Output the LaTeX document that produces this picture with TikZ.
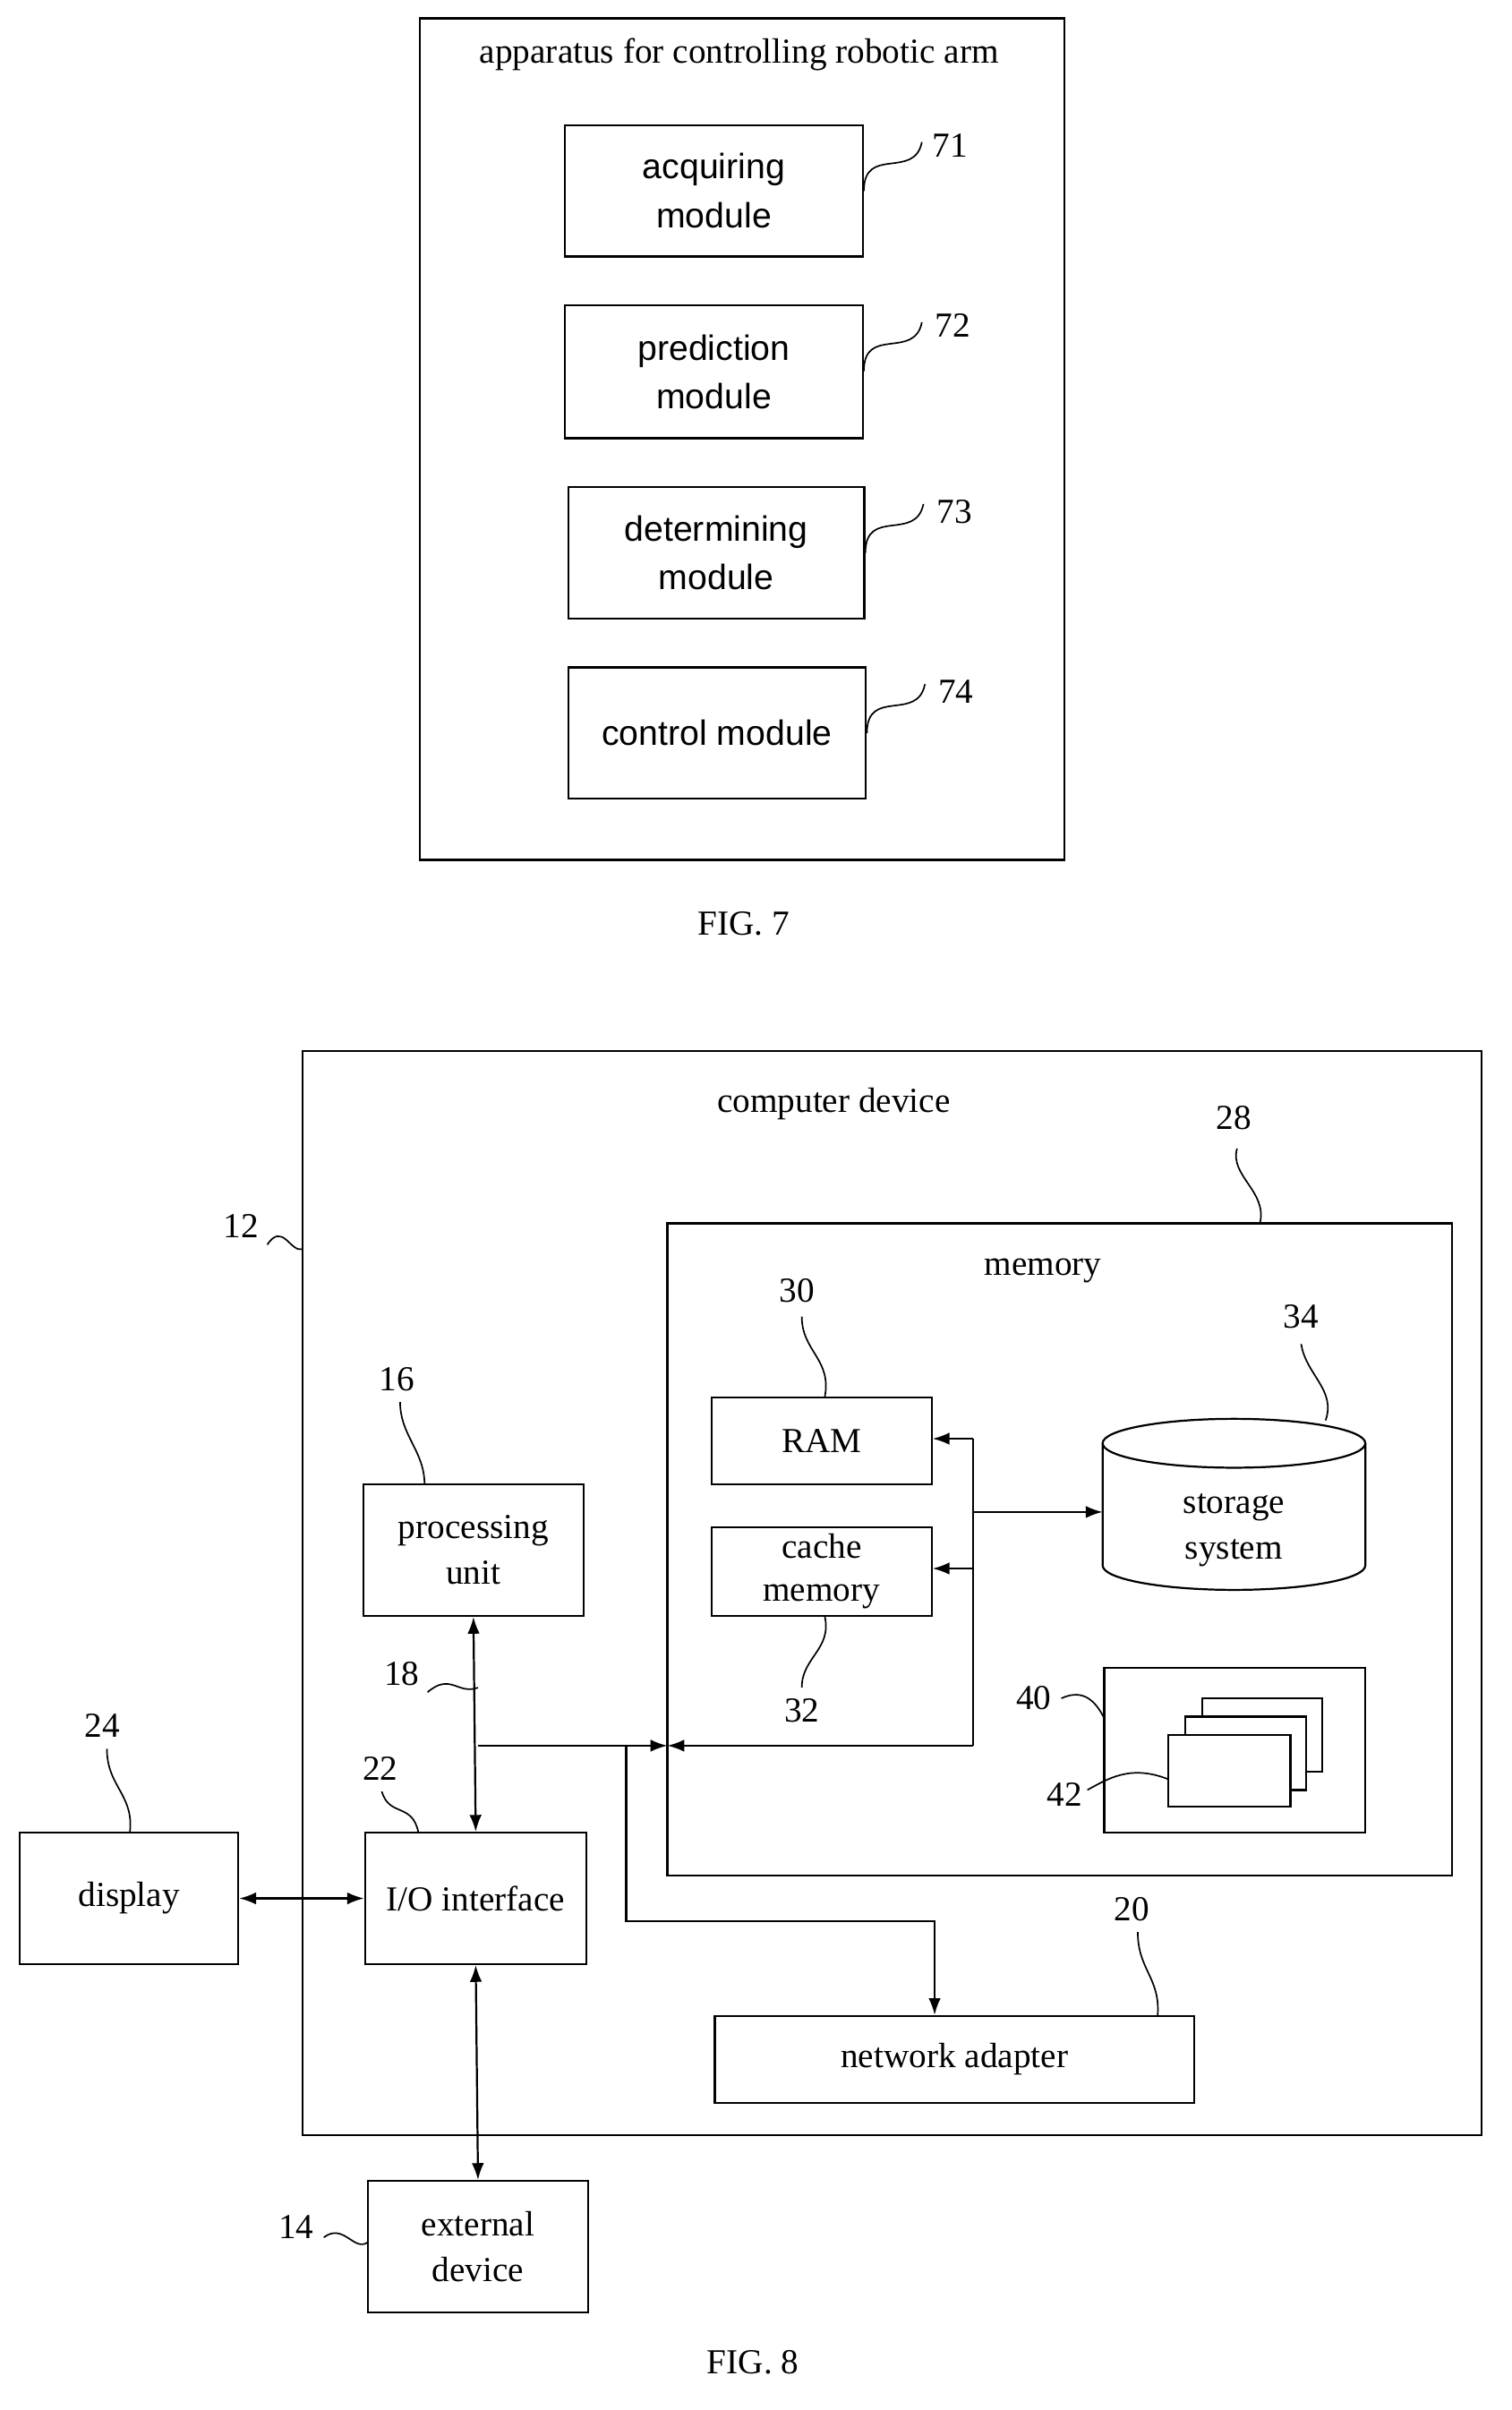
\documentclass[tikz,border=0pt]{standalone}
\usepackage{fontspec}
\setmainfont{Liberation Serif}
\newfontfamily\sansf{Liberation Sans}
\usetikzlibrary{shapes.geometric,arrows.meta}
\begin{document}
\begin{tikzpicture}[x=1pt,y=-1pt,
 box/.style={draw,line width=1.3pt,inner sep=0pt},
 lbl/.style={font=\fontsize{23}{27}\selectfont,align=center},
 num/.style={font=\fontsize{23}{27}\selectfont},
 sq/.style={line width=1pt},
 arr/.style={line width=1.3pt,-{Latex[length=11pt,width=8pt]}},
 darr/.style={line width=1.3pt,{Latex[length=11pt,width=8pt]}-{Latex[length=11pt,width=8pt]}},
 ln/.style={line width=1.3pt}]
\useasboundingbox (0,0) rectangle (990,1578);
% FIG 7
\draw[box] (275,12) rectangle (697,563);
\node[lbl] (t7) at (484,36) {apparatus for controlling robotic arm};
\tikzset{mod/.style={box,lbl,font=\sansf\fontsize{23}{32}\selectfont}}
\node[mod,minimum width=195pt,minimum height=86pt] (m1) at (467.5,125) {acquiring\\module};
\node[mod,minimum width=195pt,minimum height=87pt] (m2) at (467.5,243.5) {prediction\\module};
\node[mod,minimum width=194pt,minimum height=86pt] (m3) at (469,362) {determining\\module};
\node[mod,minimum width=195pt,minimum height=86pt] (m4) at (469.5,480) {control module};
\node[num] (n71) at (622,95) {71};
\node[num] (n72) at (624,213) {72};
\node[num] (n73) at (625,335) {73};
\node[num] (n74) at (626,453) {74};
\foreach \m/\y in {m1/125,m2/243,m3/362,m4/480}{
 \draw[sq] (\m.east|-0,\y) .. controls +(0,-30) and +(-5,25) .. +(38,-32);}
\node[lbl] (f7) at (487,605) {FIG. 7};
% FIG 8
\draw[box] (198,688) rectangle (970,1398);
\node[lbl] (cd) at (546,723) {computer device};
\draw[box] (437,801) rectangle (951,1228);
\node[lbl] (mem) at (683,832) {memory};
\node[box,minimum width=144pt,minimum height=57pt,lbl] (ram) at (538,943.5) {RAM};
\node[box,minimum width=144pt,minimum height=58pt,lbl,font=\fontsize{23}{28}\selectfont] (cache) at (538,1029) {cache\\memory};
\draw[ln] (722,945) -- (722,1025) arc[start angle=180,end angle=0,x radius=86,y radius=16] -- (894,945);
\draw[ln] (808,945) ellipse[x radius=86,y radius=16];
\node[lbl,font=\fontsize{23}{30}\selectfont] (st) at (808,1002) {storage\\system};
\coordinate (stw) at (722,990);
\draw[box] (723,1092) rectangle (894,1200);
\draw[ln,fill=white] (787,1112) rectangle (866,1160);
\draw[ln,fill=white] (776,1124) rectangle (855,1172);
\draw[ln,fill=white] (765,1136) rectangle (845,1183);
\node[box,minimum width=144pt,minimum height=86pt,lbl,font=\fontsize{23}{30}\selectfont] (pu) at (310,1015) {processing\\unit};
\node[box,minimum width=145pt,minimum height=86pt,lbl] (io) at (311.5,1243) {I/O interface};
\node[box,minimum width=143pt,minimum height=86pt,lbl] (disp) at (84.5,1243) {display};
\node[box,minimum width=314pt,minimum height=57pt,lbl] (na) at (625,1348.5) {network adapter};
\node[box,minimum width=144pt,minimum height=86pt,lbl,font=\fontsize{23}{30}\selectfont] (ext) at (313,1471) {external\\device};
\node[lbl] (f8) at (493,1547) {FIG. 8};
% numbers
\node[num] (n12) at (158,803) {12};
\node[num] (n28) at (808,732) {28};
\node[num] (n30) at (522,845) {30};
\node[num] (n32) at (525,1120) {32};
\node[num] (n34) at (852,862) {34};
\node[num] (n40) at (677,1112) {40};
\node[num] (n42) at (697,1175) {42};
\node[num] (n16) at (260,903) {16};
\node[num] (n18) at (263,1096) {18};
\node[num] (n22) at (249,1158) {22};
\node[num] (n24) at (67,1130) {24};
\node[num] (n20) at (741,1250) {20};
\node[num] (n14) at (194,1458) {14};
% squiggles
\draw[sq] (175,815) .. controls (185,800) and (190,820) .. (198,818);
\draw[sq] (810,752) .. controls (805,770) and (830,780) .. (825,801);
\draw[sq] (525,862) .. controls (525,885) and (545,890) .. (540,915);
\draw[sq] (525,1105) .. controls (525,1085) and (545,1080) .. (540,1058);
\draw[sq] (852,880) .. controls (855,900) and (875,910) .. (868,930);
\draw[sq] (695,1112) .. controls (710,1105) and (718,1115) .. (723,1125);
\draw[sq] (712,1172) .. controls (725,1165) and (740,1155) .. (765,1165);
\draw[sq] (262,918) .. controls (262,940) and (278,950) .. (278,972);
\draw[sq] (280,1108) .. controls (295,1095) and (300,1110) .. (313,1105);
\draw[sq] (250,1173) .. controls (255,1190) and (270,1180) .. (274,1200);
\draw[sq] (70,1145) .. controls (70,1170) and (88,1175) .. (85,1200);
\draw[sq] (745,1265) .. controls (745,1290) and (760,1295) .. (758,1320);
\draw[sq] (212,1465) .. controls (225,1455) and (232,1475) .. (241,1468);
% connectors
\draw[darr] (pu.south) -- (io.north);
\draw[darr] (disp.east) -- (io.west);
\draw[darr] (io.south) -- (ext.north);
\coordinate (j1) at (313,1143);
\coordinate (ml) at (437,1143);
\coordinate (j2) at (637,1143);
\draw[arr] (j1) -- (ml);
\draw[arr] (j2) -- (ml);
\draw[ln] (j2) -- (637,942);
\draw[arr] (637,942) -- (ram.east|-0,942);
\draw[arr] (637,1027) -- (cache.east|-0,1027);
\draw[arr] (637,990) -- (stw);
\draw[arr] (410,1143) -- (410,1258) -- (612,1258) -- (na.north-|612,0);
\end{tikzpicture}
\end{document}
